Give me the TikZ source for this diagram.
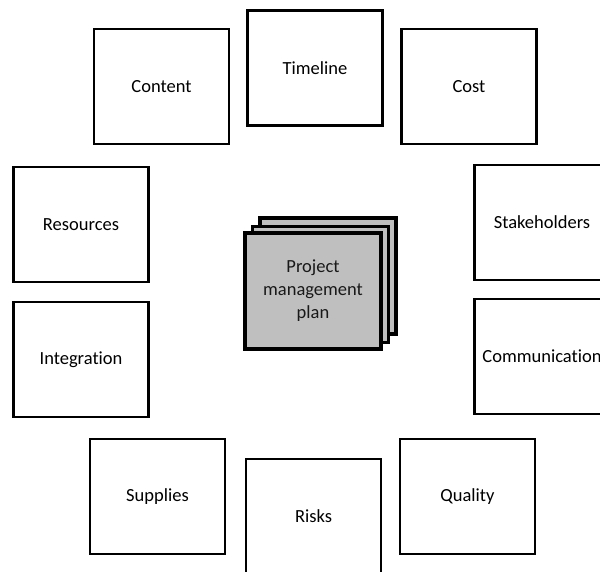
\documentclass[tikz,border=0pt]{standalone}
\usepackage{fontspec}
\setmainfont[Ligatures=NoCommon]{Carlito}
\begin{document}
\begin{tikzpicture}[x=1pt,y=-1pt,
  topic/.style={draw=black,line width=2.8pt,fill=white,rectangle,minimum width=135pt,minimum height=115pt,inner sep=0pt,font=\fontsize{18.5}{22}\selectfont,text=black},
  sheet/.style={draw=black,line width=3.4pt,fill=black!25,rectangle,minimum width=136pt,minimum height=116pt,inner sep=0pt},
  planlabel/.style={align=center,font=\fontsize{18.5}{23}\selectfont,text=black!90}]
\path[use as bounding box,clip] (0,0) rectangle (600,571);
\fill[white] (0,0) rectangle (600,571);
% outer topics
\node[topic] (content) at (161.5,86.5) {Content};
\node[topic] (timeline) at (315,68) {Timeline};
\node[topic] (cost) at (469,86.5) {Cost};
\node[topic] (resources) at (81,224.5) {Resources};
\node[topic] (stakeholders) at (542,222.5) {Stakeholders};
\node[topic] (integration) at (81,359.5) {Integration};
\node[topic] (communication) at (542,356.5) {Communication};
\node[topic] (supplies) at (157.5,496.5) {Supplies};
\node[topic] (risks) at (313.5,516.5) {Risks};
\node[topic] (quality) at (467.5,496.5) {Quality};
% central stacked plan
\node[sheet] (back) at (328,276) {};
\node[sheet] (middle) at (320.5,284.5) {};
\node[sheet] (front) at (313,291) {};
\node[planlabel] (plan) at (front.center) {Project\\management\\plan};
\end{tikzpicture}
\end{document}
